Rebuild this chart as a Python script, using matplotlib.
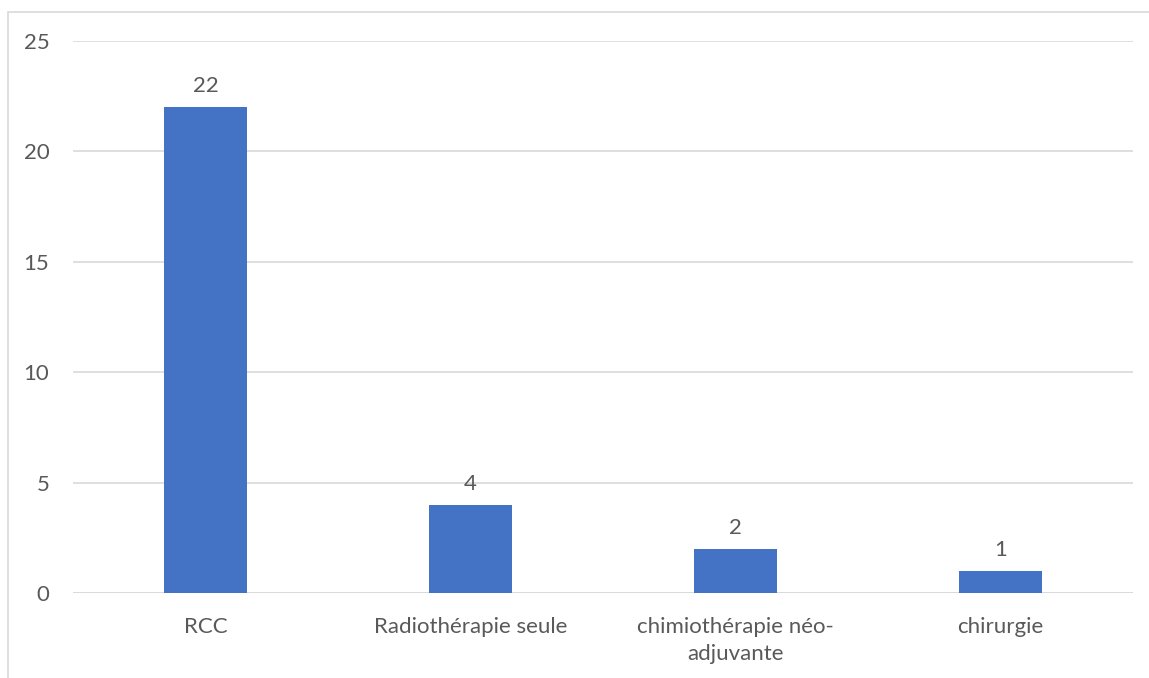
import matplotlib.pyplot as plt
from matplotlib.patches import Rectangle

categories = ["RCC", "Radiothérapie seule", "chimiothérapie néo-\nadjuvante", "chirurgie"]
counts = [22, 4, 2, 1]
yticks = [0, 5, 10, 15, 20, 25]

plt.rcParams['font.family'] = ['Lato', 'DejaVu Sans']
txt_color = '#595959'
fs = 16

fig = plt.figure(figsize=(11.49, 6.78), dpi=100)
ax = fig.add_axes([0.0635, 0.1254, 0.9226, 0.8141])

x = range(len(categories))
bars = ax.bar(x, counts, width=0.31, color='#4472C4', zorder=3)
for b, v in zip(bars, counts):
    ax.annotate(str(v), xy=(b.get_x() + b.get_width() / 2, v), xytext=(0, 8),
                textcoords='offset points', ha='center', va='bottom',
                fontsize=fs, color=txt_color)

ax.set_xlim(-0.5, len(categories) - 0.5)
ax.set_ylim(0, 25)
ax.set_yticks(yticks)
ax.set_xticks(list(x))
ax.set_xticklabels(categories, fontsize=fs, color=txt_color, linespacing=1.45)
ax.tick_params(axis='y', labelsize=fs, labelcolor=txt_color, length=0, pad=17)
ax.tick_params(axis='x', length=0, pad=17)
ax.grid(axis='y', color='#d9d9d9', linewidth=1.2, zorder=0)
for s in ax.spines.values():
    s.set_visible(False)
ax.axhline(0, color='#d9d9d9', linewidth=1.2, zorder=2)

# outer chart frame, cut off at the right and bottom edges
fig.patches.append(Rectangle((8 / 1149, -0.1), 1.2, 1 - 12 / 678 + 0.1,
                             transform=fig.transFigure, fill=False,
                             edgecolor='#d9d9d9', linewidth=1.2))

fig.savefig('out.png', dpi=100)
